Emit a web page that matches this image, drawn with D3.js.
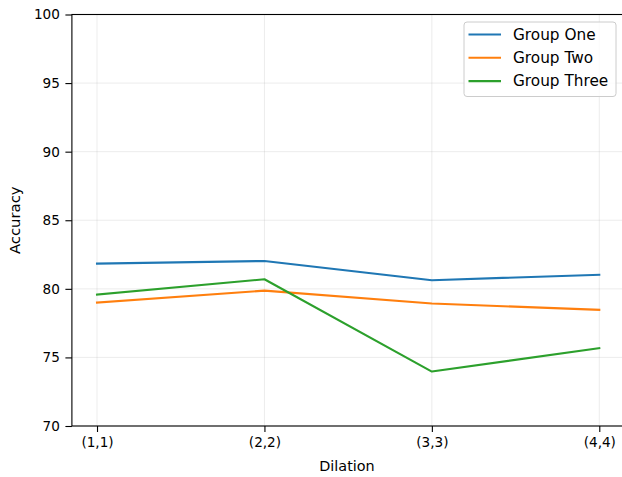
<!DOCTYPE html>
<html>
<head>
<meta charset="utf-8">
<script src="https://cdn.jsdelivr.net/npm/d3@7"></script>
<style>
  html, body { margin: 0; padding: 0; background: #fff; overflow: hidden; }
  svg { display: block; font-family: "DejaVu Sans", sans-serif; }
</style>
</head>
<body>
<svg id="chart" width="622" height="477"></svg>
<script>
// Accuracy by dilation setting for three groups
const categories = ["(1,1)", "(2,2)", "(3,3)", "(4,4)"];
const seriesNames = ["Group One", "Group Two", "Group Three"];
const groupOne = [81.84, 82.03, 80.63, 81.03];
const groupTwo = [79.0, 79.87, 78.93, 78.47];
const groupThree = [79.58, 80.7, 73.97, 75.68];
const yTicks = [70, 75, 80, 85, 90, 95, 100];
const colors = ["#1f77b4", "#ff7f0e", "#2ca02c"];

(function () {
  const series = [groupOne, groupTwo, groupThree].map((v, i) => ({ name: seriesNames[i], values: v, color: colors[i] }));

  const svg = d3.select("#chart");
  const plotLeft = 71.9, plotRight = 624.4, plotTop = 14.5, plotBottom = 426;

  const x = d3.scaleLinear().domain([-0.15, categories.length - 1 + 0.15]).range([plotLeft, plotRight]);
  const y = d3.scaleLinear().domain([70, 100]).range([plotBottom, plotTop]);

  // grid
  const grid = svg.append("g").attr("stroke", "#b0b0b0").attr("stroke-opacity", 0.3).attr("stroke-width", 0.8);
  categories.forEach((c, i) => {
    grid.append("line").attr("x1", x(i)).attr("x2", x(i)).attr("y1", plotTop).attr("y2", plotBottom);
  });
  yTicks.forEach(t => {
    grid.append("line").attr("x1", plotLeft).attr("x2", plotRight).attr("y1", y(t)).attr("y2", y(t));
  });

  // lines
  const line = d3.line().x((d, i) => x(i)).y(d => y(d));
  series.forEach(s => {
    svg.append("path").datum(s.values).attr("d", line)
      .attr("fill", "none").attr("stroke", s.color).attr("stroke-width", 2.08)
      .attr("stroke-linejoin", "round").attr("stroke-linecap", "square");
  });

  // axes
  const xAxis = d3.axisBottom(x).tickValues(categories.map((c, i) => i))
    .tickFormat(i => categories[i]).tickSize(6).tickPadding(5).tickSizeOuter(0);
  const yAxis = d3.axisLeft(y).tickValues(yTicks).tickSize(6.5).tickPadding(5.5).tickSizeOuter(0);

  const gx = svg.append("g").attr("transform", `translate(0,${plotBottom})`).call(xAxis);
  const gy = svg.append("g").attr("transform", `translate(${plotLeft},0)`).call(yAxis);
  [gx, gy].forEach(g => {
    g.select(".domain").remove();
    g.selectAll(".tick line").attr("stroke", "#000").attr("stroke-width", 1.1);
    g.selectAll(".tick text").attr("fill", "#000").attr("font-size", "13.6px").attr("font-family", "DejaVu Sans");
  });

  // frame
  svg.append("rect").attr("x", plotLeft).attr("y", plotTop).attr("width", plotRight - plotLeft).attr("height", plotBottom - plotTop)
    .attr("fill", "none").attr("stroke", "#000").attr("stroke-width", 1.1);

  // axis titles
  svg.append("text").attr("x", 347).attr("y", 470.5).attr("text-anchor", "middle")
    .attr("font-size", "14.4px").attr("fill", "#000").text("Dilation");
  svg.append("text").attr("transform", `translate(19.5,${(plotTop + plotBottom) / 2}) rotate(-90)`)
    .attr("text-anchor", "middle").attr("font-size", "14.8px").attr("fill", "#000").text("Accuracy");

  // legend
  const lg = svg.append("g");
  lg.append("rect").attr("x", 464).attr("y", 22).attr("width", 152).attr("height", 74.5).attr("rx", 3)
    .attr("fill", "#fff").attr("fill-opacity", 0.8).attr("stroke", "#cccccc").attr("stroke-width", 1);
  series.forEach((s, i) => {
    const yy = 34.5 + i * 23.3;
    lg.append("line").attr("x1", 468.5).attr("x2", 501).attr("y1", yy).attr("y2", yy)
      .attr("stroke", s.color).attr("stroke-width", 2.08);
    lg.append("text").attr("x", 513).attr("y", yy).attr("dy", "0.35em")
      .attr("font-size", "15.3px").attr("fill", "#000").text(s.name);
  });
})();
</script>
</body>
</html>
